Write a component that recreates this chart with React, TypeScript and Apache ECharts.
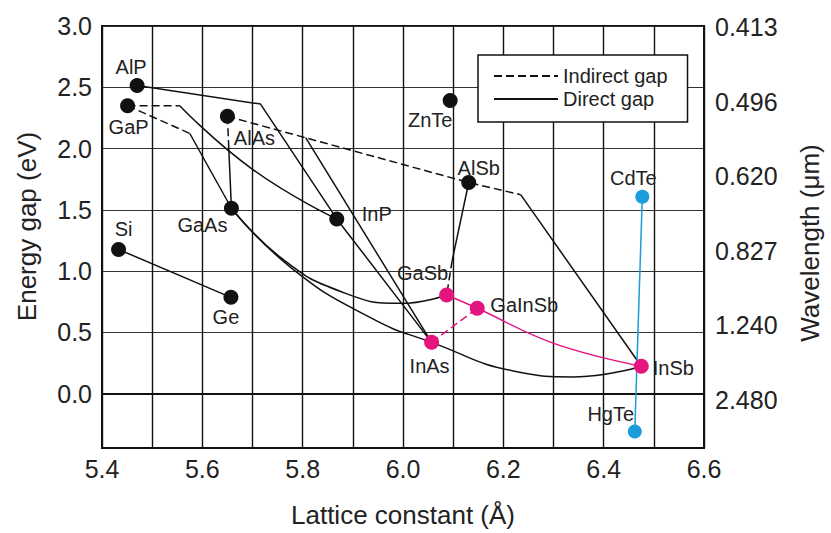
import React, { useEffect, useRef } from "react";
import * as echarts from "echarts";

const FONT = '"Liberation Sans", Arial, Helvetica, sans-serif';
const INK = "#222";
const PINK = "#e5157f";
const BLUE = "#1b9ddb";

// Binary / ternary semiconductors: lattice constant (Å) and band gap (eV)
const compounds = ["AlP", "GaP", "AlAs", "GaAs", "Si", "Ge", "InP", "ZnTe", "AlSb", "GaSb", "GaInSb", "InAs", "InSb", "CdTe", "HgTe"];
const latticeConst = [5.47, 5.451, 5.65, 5.658, 5.433, 5.657, 5.868, 6.094, 6.131, 6.087, 6.148, 6.057, 6.475, 6.477, 6.462];
const energyGap = [2.514, 2.35, 2.263, 1.513, 1.177, 0.786, 1.426, 2.392, 1.723, 0.805, 0.697, 0.419, 0.224, 1.607, -0.308];

const pinkCompounds = ["GaSb", "GaInSb", "InAs", "InSb"];
const blueCompounds = ["CdTe", "HgTe"];

// Bend points where alloy lines change direction or gap type
const alpBend = [5.716, 2.363];
const gapBendUpper = [5.555, 2.35];
const gapBendLower = [5.575, 2.123];
const alasBendDown = [5.652, 2.07];
const alasBendRight = [5.806, 2.09];
const alsbBendRight = [6.2345, 1.624];
const alsbBendDown = [6.098, 1.086];

// Bowed alloy curves (intermediate points)
const gapToInpCurve = [[5.70, 1.831]];
const gaasToGasbCurve = [[5.759, 1.102], [5.877, 0.832], [5.996, 0.737]];
const gaasToInasCurve = [[5.779, 1.021], [5.937, 0.616]];
const inasToInsbCurve = [[6.227, 0.18], [6.34, 0.137]];
const gainsbToInsbCurve = [[6.299, 0.413]];

// Axes
const xLabelValues = [5.4, 5.6, 5.8, 6.0, 6.2, 6.4, 6.6];
const gapTickValues = [0, 0.5, 1.0, 1.5, 2.0, 2.5, 3.0];
const wavelengthLabels = ["0.413", "0.496", "0.620", "0.827", "1.240", "2.480"];

const labelOffsets: Record<string, [number, number]> = {
  AlP: [-6, -19], GaP: [1, 21], AlAs: [27, 22], GaAs: [-29, 17], Si: [5, -20], Ge: [-5, 20],
  InP: [40, -5], ZnTe: [-20, 19], AlSb: [10, -15], CdTe: [-9, -19], GaSb: [-24, -22],
  GaInSb: [47, -3], InAs: [-2, 24], InSb: [32, 2], HgTe: [-24, -17],
};

const P = (name: string): number[] => {
  const i = compounds.indexOf(name);
  return [latticeConst[i], energyGap[i]];
};

const lineSeries = (name: string, data: number[][], color: string, dashed: boolean, smooth: number | false = false) => ({
  type: "line",
  name,
  data,
  symbol: "none",
  smooth,
  silent: true,
  z: 2,
  lineStyle: { color, width: 1.5, type: dashed ? [8, 4] : "solid" },
  itemStyle: { color },
});

const colorOf = (name: string) =>
  pinkCompounds.includes(name) ? PINK : blueCompounds.includes(name) ? BLUE : "#111";

export default function App() {
  const ref = useRef<HTMLDivElement>(null);

  useEffect(() => {
    if (!ref.current) return;
    const chart = echarts.init(ref.current, undefined, { renderer: "svg" });

    const IND = "Indirect gap";
    const DIR = "Direct gap";

    const series: any[] = [
      // indirect-gap (dashed) branches
      lineSeries(IND, [P("GaP"), gapBendUpper], "#111", true),
      lineSeries(IND, [P("GaP"), gapBendLower], "#111", true),
      lineSeries(IND, [P("AlAs"), alasBendDown], "#111", true),
      lineSeries(IND, [P("AlAs"), P("AlSb"), alsbBendRight], "#111", true),
      lineSeries(IND, [alsbBendDown, P("GaSb")], "#111", true),
      // direct-gap (solid) branches
      lineSeries(DIR, [P("AlP"), alpBend, P("InP"), P("InAs")], "#111", false),
      lineSeries(DIR, [gapBendUpper, ...gapToInpCurve, P("InP")], "#111", false, 0.5),
      lineSeries(DIR, [gapBendLower, P("GaAs")], "#111", false),
      lineSeries(DIR, [alasBendDown, P("GaAs")], "#111", false),
      lineSeries(DIR, [alasBendRight, P("InAs")], "#111", false),
      lineSeries(DIR, [P("GaAs"), ...gaasToGasbCurve, P("GaSb")], "#111", false, 0.5),
      lineSeries(DIR, [P("GaAs"), ...gaasToInasCurve, P("InAs"), ...inasToInsbCurve, P("InSb")], "#111", false, 0.5),
      lineSeries(DIR, [P("AlSb"), alsbBendDown], "#111", false),
      lineSeries(DIR, [alsbBendRight, P("InSb")], "#111", false),
      lineSeries(DIR, [P("Si"), P("Ge")], "#111", false),
      // GaInSb system
      lineSeries("GaInSb-d", [P("GaSb"), P("GaInSb"), ...gainsbToInsbCurve, P("InSb")], PINK, false, 0.4),
      lineSeries("GaInSb-i", [P("InAs"), P("GaInSb")], PINK, true),
      // HgCdTe
      lineSeries("HgCdTe", [P("CdTe"), P("HgTe")], BLUE, false),
      {
        type: "scatter",
        name: "compounds",
        z: 5,
        silent: true,
        symbolSize: 15,
        itemStyle: { opacity: 1 },
        data: compounds.map((c, i) => ({
          name: c,
          value: [latticeConst[i], energyGap[i]],
          symbolSize: blueCompounds.includes(c) ? 14 : 15,
          itemStyle: { color: colorOf(c), opacity: 1 },
          label: {
            show: true,
            position: "inside",
            offset: labelOffsets[c],
            formatter: c,
            color: INK,
            fontSize: 20,
            fontFamily: FONT,
          },
        })),
      },
    ];

    chart.setOption({
      animation: false,
      backgroundColor: "#fff",
      textStyle: { fontFamily: FONT, color: INK },
      grid: { left: 102, right: 122, top: 26, bottom: 82, show: true, borderColor: "#111", borderWidth: 2, containLabel: false },
      legend: {
        data: [IND, DIR],
        orient: "vertical",
        left: 478,
        top: 55,
        padding: [11, 20, 13, 15],
        itemGap: 3,
        itemWidth: 64,
        itemHeight: 14,
        borderColor: "#111",
        borderWidth: 1.5,
        borderRadius: 0,
        backgroundColor: "#fff",
        selectedMode: false,
        itemStyle: { color: "rgba(0,0,0,0)", borderColor: "rgba(0,0,0,0)", borderWidth: 0, opacity: 0 },
        textStyle: { fontSize: 20, color: INK, fontFamily: FONT, lineHeight: 20 },
      },
      xAxis: {
        type: "value",
        min: 5.4,
        max: 6.6,
        interval: 0.1,
        name: "Lattice constant (Å)",
        nameLocation: "middle",
        nameGap: 54,
        nameMoveOverlap: false,
        nameTextStyle: { fontSize: 26, color: INK, fontFamily: FONT },
        axisLine: { show: true, lineStyle: { color: "#111", width: 2 } },
        axisTick: { show: false },
        axisLabel: {
          customValues: xLabelValues,
          formatter: (v: number) => v.toFixed(1),
          fontSize: 25,
          color: INK,
          margin: 8,
        },
        splitLine: { show: true, lineStyle: { color: "#111", width: 1.4 } },
      },
      yAxis: [
        {
          type: "value",
          min: -0.443,
          max: 3.0,
          name: "Energy gap (eV)",
          nameLocation: "middle",
          nameRotate: 90,
          nameGap: 62,
          nameMoveOverlap: false,
          nameTextStyle: { fontSize: 26, color: INK, fontFamily: FONT, padding: [0, 0, 0, 21] },
          axisLine: { show: true, lineStyle: { color: "#111", width: 2 } },
          axisTick: { show: false, customValues: gapTickValues },
          axisLabel: {
            customValues: gapTickValues,
            formatter: (v: number) => v.toFixed(1),
            fontSize: 25,
            color: INK,
            margin: 10,
          },
          splitLine: { show: true, lineStyle: { color: "#333", width: 1.2 } },
        },
        {
          type: "value",
          position: "right",
          inverse: true,
          min: -0.0173,
          max: 5.649,
          name: "Wavelength (μm)",
          nameLocation: "middle",
          nameRotate: 90,
          nameGap: 93,
          nameMoveOverlap: false,
          nameTextStyle: { fontSize: 26, color: INK, fontFamily: FONT, padding: [0, 12, 0, 0] },
          axisLine: { show: true, lineStyle: { color: "#111", width: 2 } },
          axisTick: { show: false, customValues: [0, 1, 2, 3, 4, 5] },
          axisLabel: {
            customValues: [0, 1, 2, 3, 4, 5],
            formatter: (v: number) => wavelengthLabels[Math.round(v)] ?? "",
            fontSize: 25,
            color: INK,
            margin: 11,
          },
          splitLine: { show: false },
        },
      ],
      series,
    });

    return () => chart.dispose();
  }, []);

  return (
    <div
      ref={ref}
      style={{ position: "fixed", left: 0, top: 0, width: 831, height: 533, background: "#fff" }}
    />
  );
}
